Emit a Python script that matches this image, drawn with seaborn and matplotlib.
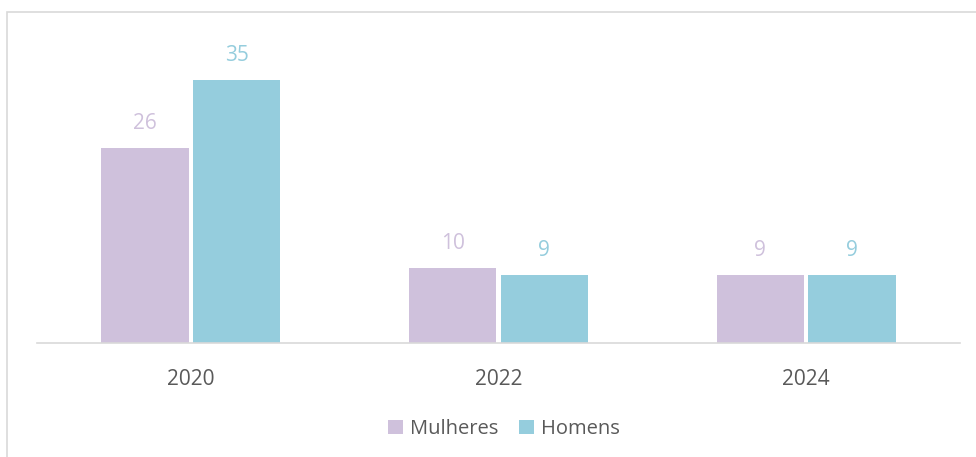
import matplotlib
matplotlib.use("Agg")
import matplotlib.pyplot as plt
from matplotlib.patches import Rectangle
import seaborn as sns
import pandas as pd

years = ["2020", "2022", "2024"]
series = ["Mulheres", "Homens"]
mulheres = [26, 10, 9]
homens = [35, 9, 9]
colors = ["#CFC1DC", "#95CDDD"]

df = pd.DataFrame({
    "ano": years * 2,
    "grupo": [series[0]] * 3 + [series[1]] * 3,
    "valor": mulheres + homens,
})

sns.set_theme(style="white")
plt.rcParams["font.family"] = ["Open Sans", "DejaVu Sans"]

fig = plt.figure(figsize=(9.76, 4.57), dpi=100)
ax = fig.add_axes([37 / 976, 114 / 457, 923 / 976, 313 / 457])

sns.barplot(data=df, x="ano", y="valor", hue="grupo", order=years,
            hue_order=series, palette=colors, width=0.595, gap=0.045,
            saturation=1, linewidth=0, ax=ax, legend=True)

ax.set_xlim(-0.5, 2.5)
ax.set_ylim(0, 313 / 7.514)
for c, col in zip(ax.containers, colors):
    ax.bar_label(c, labels=[f"{v:g}" for v in c.datavalues], padding=10,
                 color=col, fontsize=15)

for s in ["top", "right", "left"]:
    ax.spines[s].set_visible(False)
ax.spines["bottom"].set_color("#D9D9D9")
ax.spines["bottom"].set_linewidth(1.2)
ax.set_yticks([])
ax.set_xlabel("")
ax.set_ylabel("")
ax.tick_params(axis="x", length=0, pad=19, labelsize=15, labelcolor="#595959")

leg = ax.legend(loc="center", bbox_to_anchor=(504 / 976, 28 / 457),
                bbox_transform=fig.transFigure, ncol=2, frameon=False,
                fontsize=14.5, handlelength=0.75, handleheight=0.75,
                handletextpad=0.35, columnspacing=1.0)
for t in leg.get_texts():
    t.set_color("#595959")

fig.patches.append(Rectangle((7 / 976, -0.1), 1.2, 1.1 - 12 / 457,
                             transform=fig.transFigure, fill=False,
                             edgecolor="#D9D9D9", linewidth=1.2))

fig.savefig("out.png", dpi=100)
